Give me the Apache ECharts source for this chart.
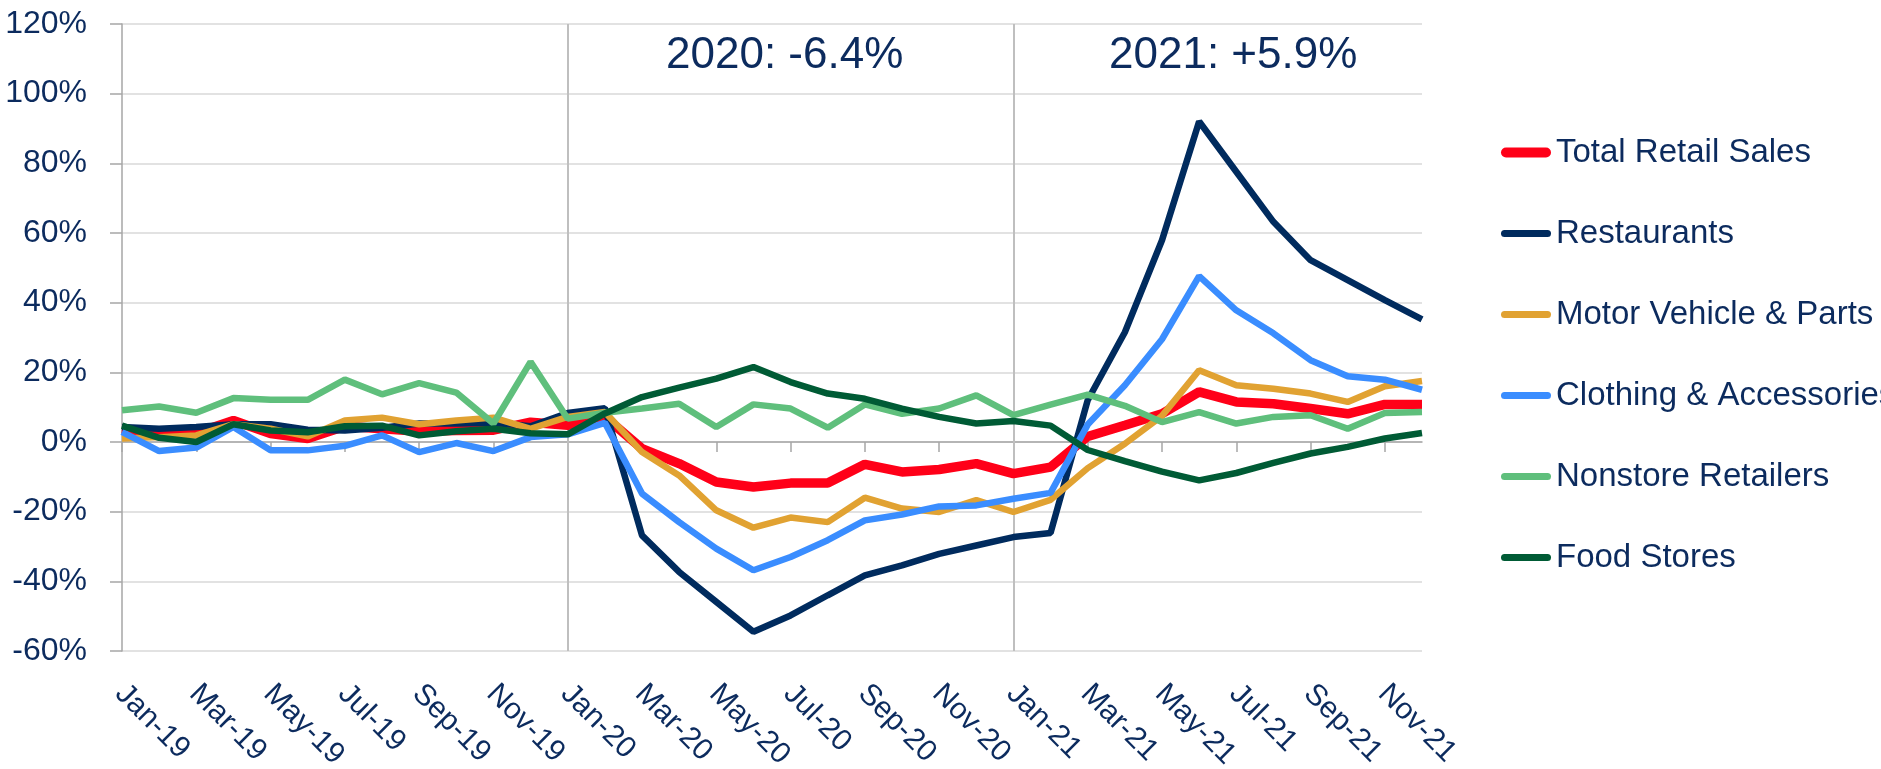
<!DOCTYPE html>
<html>
<head>
<meta charset="utf-8">
<script src="https://cdn.jsdelivr.net/npm/echarts@6/dist/echarts.min.js"></script>
<style>
html,body{margin:0;padding:0;background:#fff;}
#chart{width:1881px;height:769px;}
</style>
</head>
<body>
<div id="chart"></div>
<script>
var months = ['Jan-19','Feb-19','Mar-19','Apr-19','May-19','Jun-19','Jul-19','Aug-19','Sep-19','Oct-19','Nov-19','Dec-19',
  'Jan-20','Feb-20','Mar-20','Apr-20','May-20','Jun-20','Jul-20','Aug-20','Sep-20','Oct-20','Nov-20','Dec-20',
  'Jan-21','Feb-21','Mar-21','Apr-21','May-21','Jun-21','Jul-21','Aug-21','Sep-21','Oct-21','Nov-21','Dec-21'];

var totalRetail = [3.8, 2.4, 2.6, 6.2, 2.4, 1.0, 4.5, 3.8, 3.1, 3.3, 3.4, 5.7,
  4.8, 7.2, -1.9, -6.2, -11.5, -12.9, -11.8, -11.8, -6.4, -8.6, -7.9, -6.2,
  -9.1, -7.2, 1.6, 4.8, 8.1, 14.4, 11.5, 11.0, 9.6, 8.1, 10.8, 10.8];
var restaurants = [4.3, 3.8, 4.3, 5.1, 5.1, 3.5, 3.3, 4.1, 5.3, 5.3, 5.5, 4.5,
  8.3, 9.7, -26.8, -37.3, -45.9, -54.5, -49.8, -44.0, -38.3, -35.4, -32.1, -29.7,
  -27.3, -26.1, 12.0, 31.5, 57.9, 92.0, 77.6, 63.2, 52.2, 46.5, 40.7, 35.2];
var motorVehicle = [1.0, 1.4, 1.9, 5.1, 3.8, 1.6, 6.2, 7.0, 5.1, 6.2, 7.0, 3.8,
  7.2, 8.6, -2.9, -9.6, -19.6, -24.6, -21.7, -23.0, -16.0, -19.1, -20.1, -16.7,
  -20.1, -16.6, -7.5, -0.5, 7.5, 20.6, 16.3, 15.3, 13.9, 11.5, 16.0, 17.5];
var clothing = [2.9, -2.6, -1.6, 4.3, -2.4, -2.4, -1.1, 1.9, -2.9, -0.3, -2.6, 1.4,
  2.2, 5.5, -14.8, -23.0, -30.6, -36.8, -33.0, -28.2, -22.5, -20.8, -18.5, -18.2,
  -16.3, -14.6, 5.0, 16.3, 29.5, 47.6, 37.8, 31.2, 23.5, 18.9, 17.9, 15.0];
var nonstore = [9.1, 10.2, 8.4, 12.6, 12.1, 12.1, 17.9, 13.7, 16.9, 14.2, 5.3, 23.0,
  6.7, 8.4, 9.6, 11.0, 4.3, 10.8, 9.6, 4.1, 10.8, 8.1, 9.6, 13.4,
  7.7, 10.7, 13.6, 10.4, 5.7, 8.6, 5.3, 7.2, 7.7, 3.8, 8.3, 8.6];
var foodStores = [4.7, 1.2, 0.0, 5.1, 3.3, 2.8, 4.5, 4.7, 1.9, 3.1, 3.8, 2.5,
  2.2, 8.2, 12.9, 15.6, 18.2, 21.5, 17.2, 13.9, 12.4, 9.6, 7.2, 5.3,
  6.0, 4.7, -2.3, -5.5, -8.5, -11.0, -8.9, -6.0, -3.3, -1.4, 1.0, 2.6];

var seriesNames = ['Total Retail Sales','Restaurants','Motor Vehicle & Parts','Clothing & Accessories','Nonstore Retailers','Food Stores'];
var seriesData = [totalRetail, restaurants, motorVehicle, clothing, nonstore, foodStores];
var seriesColors = ['#FF0018','#002B5E','#E1A232','#3A8DFF','#5FBF7C','#005B35'];
var seriesWidths = [9.5, 6.5, 6.5, 6.5, 6.5, 6.5];
var legendIconPaths = [
  'path://M5,0 L45,0 A5,5 0 0 1 45,10 L5,10 A5,5 0 0 1 5,0 Z',
  'path://M3.5,0 L46.5,0 A3.5,3.5 0 0 1 46.5,7 L3.5,7 A3.5,3.5 0 0 1 3.5,0 Z'
];

var yearDividers = ['Jan-20','Jan-21'];
var annotations = ['2020: -6.4%','2021: +5.9%'];

var textColor = '#0C2B5E';
var fontFam = '"Liberation Sans", Arial, sans-serif';

var chart = echarts.init(document.getElementById('chart'), null, {renderer:'canvas'});

var series = seriesNames.map(function(name, i){
  var s = {
    name: name,
    type: 'line',
    data: seriesData[i],
    xAxisIndex: 0,
    symbol: 'none',
    showSymbol: false,
    smooth: false,
    lineStyle: {color: seriesColors[i], width: seriesWidths[i]},
    itemStyle: {color: seriesColors[i]},
    z: 2 + i
  };
  if (i === 0) {
    s.markLine = {
      silent: true,
      symbol: ['none','none'],
      label: {show: false},
      lineStyle: {color: '#BFBFBF', width: 2, type: 'solid'},
      z: 1,
      data: yearDividers.map(function(m){ return {xAxis: m}; })
    };
  }
  return s;
});

var option = {
  animation: false,
  backgroundColor: '#ffffff',
  textStyle: {fontFamily: fontFam},
  grid: {left: 122, right: 459, top: 24, bottom: 118, containLabel: false, outerBoundsMode: 'none'},
  legend: {
    orient: 'vertical',
    left: 1496,
    top: 131,
    itemWidth: 50,
    itemHeight: 12,
    itemGap: 48,
    data: seriesNames.map(function(n, i){
      return {name: n, icon: legendIconPaths[i === 0 ? 0 : 1], itemStyle: {color: seriesColors[i]}};
    }),
    textStyle: {color: textColor, fontSize: 33, lineHeight: 33, fontFamily: fontFam}
  },
  xAxis: [
    {
      type: 'category',
      data: months,
      boundaryGap: false,
      position: 'bottom',
      axisLine: {show: true, onZero: true, lineStyle: {color: '#A6A6A6', width: 1.5}},
      axisTick: {show: true, interval: 1, length: 10, lineStyle: {color: '#A6A6A6', width: 1.5}},
      axisLabel: {show: false},
      splitLine: {show: false}
    },
    {
      type: 'category',
      data: months,
      boundaryGap: false,
      position: 'bottom',
      axisLine: {show: false, onZero: false},
      axisTick: {show: false},
      axisLabel: {
        show: true, interval: 1, rotate: -45, margin: 19,
        color: textColor, fontSize: 30, fontFamily: fontFam,
        align: 'left', verticalAlign: 'top', padding: [0, 0, 0, 12]
      },
      splitLine: {show: false}
    }
  ],
  yAxis: {
    type: 'value',
    min: -60,
    max: 120,
    interval: 20,
    axisLine: {show: true, lineStyle: {color: '#A6A6A6', width: 1.5}},
    axisTick: {show: true, length: 12, lineStyle: {color: '#A6A6A6', width: 1.5}},
    axisLabel: {formatter: '{value}%', color: textColor, fontSize: 32, margin: 35, fontFamily: fontFam},
    splitLine: {show: true, lineStyle: {color: '#D9D9D9', width: 1.5}}
  },
  graphic: [
    {type: 'text', left: 785 - 119, top: 34, style: {text: annotations[0], fill: textColor, fontSize: 44, fontFamily: fontFam}},
    {type: 'text', left: 1233 - 124, top: 34, style: {text: annotations[1], fill: textColor, fontSize: 44, fontFamily: fontFam}}
  ],
  series: series
};
chart.setOption(option);
</script>
</body>
</html>
